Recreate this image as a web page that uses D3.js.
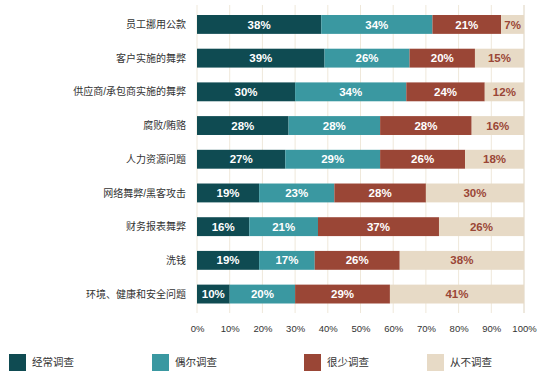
<!DOCTYPE html>
<html><head><meta charset="utf-8">
<script src="https://cdn.jsdelivr.net/npm/d3@7"></script>
<style>
body{margin:0;background:#fff;}
text{font-family:"Liberation Sans",Arial,"Noto Sans CJK SC",sans-serif;}
</style></head>
<body><svg id="c" width="546" height="380"></svg>
<script>
const categories = ["员工挪用公款","客户实施的舞弊","供应商/承包商实施的舞弊","腐败/贿赂","人力资源问题","网络舞弊/黑客攻击","财务报表舞弊","洗钱","环境、健康和安全问题"];
const often     = [38,39,30,28,27,19,16,19,10];
const sometimes = [34,26,34,28,29,23,21,17,20];
const rarely    = [21,20,24,28,26,28,37,26,29];
const never     = [7,15,12,16,18,30,26,38,41];
const seriesNames = ["经常调查","偶尔调查","很少调查","从不调查"];
const ticks = [0,10,20,30,40,50,60,70,80,90,100];

const colors = ["#0f4b52","#3a98a1","#9a4636","#e7dac6"];
const labelColors = ["#fff","#fff","#fff","#9a4636"];

const svg = d3.select("#c");
const x = d3.scaleLinear().domain([0,100]).range([197,524]);
const y = d3.scaleBand().domain(categories).range([15,303.5]).paddingInner(0.44).paddingOuter(0);

// gridlines
svg.append("g").selectAll("line").data(ticks).join("line")
  .attr("x1",d=>x(d)).attr("x2",d=>x(d)).attr("y1",5).attr("y2",313)
  .attr("stroke",d=>d===100?"#ddd2bd":"#efe8da").attr("stroke-width",1);

const rows = categories.map((c,i)=>({cat:c, vals:[often[i],sometimes[i],rarely[i],never[i]]}));
const stack = d3.stack().keys([0,1,2,3]).value((d,k)=>d.vals[k]);
const stacked = stack(rows);

const g = svg.append("g");
stacked.forEach((layer,k)=>{
  const gl = g.append("g");
  gl.selectAll("rect").data(layer).join("rect")
    .attr("x",d=>x(d[0])).attr("width",d=>x(d[1])-x(d[0]))
    .attr("y",d=>y(d.data.cat)).attr("height",y.bandwidth())
    .attr("fill",colors[k]);
  gl.selectAll("text").data(layer).join("text")
    .attr("x",d=>(x(d[0])+x(d[1]))/2)
    .attr("y",d=>y(d.data.cat)+y.bandwidth()/2)
    .attr("dy","0.36em").attr("text-anchor","middle")
    .attr("font-size",11.5).attr("font-weight","bold")
    .attr("fill",labelColors[k])
    .text(d=>d.data.vals[k]+"%");
});

// category labels
svg.append("g").selectAll("text").data(categories).join("text")
  .attr("x",186).attr("y",d=>y(d)+y.bandwidth()/2).attr("dy","0.36em")
  .attr("text-anchor","end").attr("font-size",10).attr("fill","#333")
  .text(d=>d);

// x axis labels
const axis = d3.axisBottom(x).tickValues(ticks).tickFormat(d=>d+"%").tickSize(0);
const ax = svg.append("g").attr("transform","translate(0,322)").call(axis);
ax.select(".domain").remove();
ax.selectAll("text").attr("font-size",9.5).attr("fill","#333")
  .attr("font-family","\"Liberation Sans\",Arial,sans-serif");

// legend
const legX = [9,152,304,427];
const leg = svg.append("g").selectAll("g").data(seriesNames).join("g")
  .attr("transform",(d,i)=>`translate(${legX[i]},354)`);
leg.append("rect").attr("width",17).attr("height",17)
  .attr("fill",(d,i)=>colors[i]);
leg.append("text").attr("x",23).attr("y",8.5).attr("dy","0.36em")
  .attr("font-size",10.5).attr("fill","#333").text(d=>d);
</script></body></html>
